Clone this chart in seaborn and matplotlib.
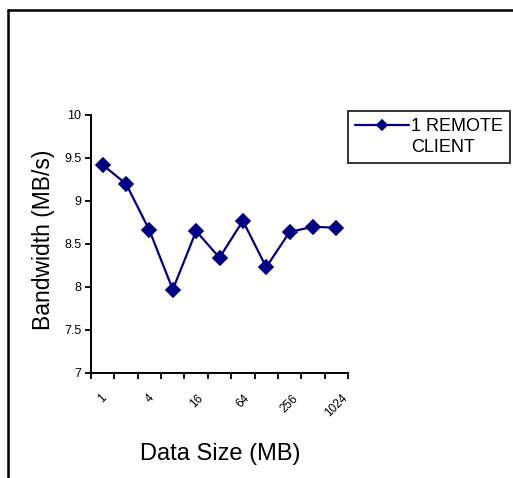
import matplotlib
matplotlib.use("Agg")
import matplotlib.pyplot as plt
from matplotlib.lines import Line2D
import seaborn as sns
import pandas as pd

# Transfer sizes (MB) and measured bandwidth for one remote client
data_sizes = ["1", "2", "4", "8", "16", "32", "64", "128", "256", "512", "1024"]
bandwidth = [9.42, 9.20, 8.66, 7.97, 8.65, 8.34, 8.77, 8.23, 8.64, 8.70, 8.69]
shown_labels = ["1", "4", "16", "64", "256", "1024"]
y_ticks = [7, 7.5, 8, 8.5, 9, 9.5, 10]
y_tick_labels = ["7", "7.5", "8", "8.5", "9", "9.5", "10"]
series_name = "1 REMOTE"
series_name_cont = "CLIENT"

df = pd.DataFrame({"size": data_sizes, "bw": bandwidth})

sns.set_theme(style="white")
plt.rcParams["font.family"] = ["Liberation Sans", "DejaVu Sans"]
plt.rcParams.update({"text.color": "black", "axes.labelcolor": "black",
                     "xtick.color": "black", "ytick.color": "black"})

W, H = 513, 478
fig = plt.figure(figsize=(W / 100, H / 100), dpi=100)
fig.patch.set_facecolor("white")

L, R, T, B = 91, 348, 115, 373
ax = fig.add_axes([L / W, 1 - B / H, (R - L) / W, (B - T) / H])

navy = "#000080"
sns.pointplot(data=df, x="size", y="bw", order=data_sizes, ax=ax,
              color=navy, markers="D", linestyles="-", markersize=6.8,
              linewidth=1.6, errorbar=None, label=series_name)
if ax.get_legend() is not None:
    ax.get_legend().remove()

ax.set_xlim(-0.5, len(data_sizes) - 0.5)
ax.set_ylim(7, 10)

# category boundaries carry the tick marks; labels sit at every other category
ax.set_xticks([i - 0.5 for i in range(len(data_sizes) + 1)], minor=True)
ax.set_xticks(range(len(data_sizes)))
ax.set_xticklabels([s if s in shown_labels else "" for s in data_sizes],
                   rotation=45, ha="center", va="top", fontsize=8.5,
                   color="black")
ax.tick_params(axis="x", which="major", length=0, pad=14)
ax.tick_params(axis="x", which="minor", length=4, width=1.3, color="black",
               direction="out", bottom=True)

ax.set_yticks(y_ticks)
ax.set_yticklabels(y_tick_labels, fontsize=9, color="black")
ax.tick_params(axis="y", which="major", length=4, width=1.3, color="black",
               direction="out", left=True, pad=3)

for side in ["top", "right"]:
    ax.spines[side].set_visible(False)
for side in ["left", "bottom"]:
    ax.spines[side].set_color("black")
    ax.spines[side].set_linewidth(1.4)

ax.set_xlabel("Data Size (MB)", fontsize=17, color="black")
ax.set_ylabel("Bandwidth (MB/s)", fontsize=16.5, color="black")
ax.xaxis.set_label_coords(0.502, -0.27)
ax.yaxis.set_label_coords(-0.14, 0.515)

handles, labels = ax.get_legend_handles_labels()
handles = handles[:1] + [Line2D([], [], linestyle="none", marker=None)]
labels = [series_name, series_name_cont]
leg = fig.legend(handles, labels, loc="upper left",
                 bbox_to_anchor=(348 / W, 1 - 111 / H), fontsize=13,
                 frameon=True, fancybox=False, edgecolor="black",
                 handlelength=3.0, handletextpad=0.1, labelspacing=0.2,
                 borderpad=0.4, borderaxespad=0, markerscale=0.75)
leg.get_frame().set_linewidth(1.4)
for t in leg.get_texts():
    t.set_color("black")

# outer chart-area border (top and left edges)
fig.add_artist(Line2D([8 / W, 1], [1 - 10 / H, 1 - 10 / H],
                      transform=fig.transFigure, color="black", lw=1.8))
fig.add_artist(Line2D([8 / W, 8 / W], [1 - 10 / H, 0],
                      transform=fig.transFigure, color="black", lw=1.8))

fig.savefig("out.png", dpi=100, facecolor="white")
